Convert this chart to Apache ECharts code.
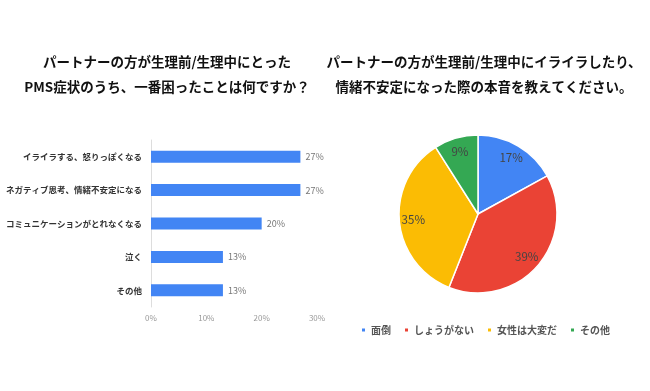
<!DOCTYPE html>
<html>
<head>
<meta charset="utf-8">
<script src="https://cdn.jsdelivr.net/npm/echarts@6/dist/echarts.min.js"></script>
<style>
  html, body { margin: 0; padding: 0; background: #fff; }
  #chart { width: 650px; height: 391px; }
</style>
</head>
<body>
<div id="chart"></div>
<script>
const FONT = '"Noto Sans CJK JP", sans-serif';

// left: bar chart
const barTitle = 'パートナーの方が生理前/生理中にとった\nPMS症状のうち、一番困ったことは何ですか？';
const barCategories = ['イライラする、怒りっぽくなる', 'ネガティブ思考、情緒不安定になる', 'コミュニケーションがとれなくなる', '泣く', 'その他'];
const barValues = [27, 27, 20, 13, 13];
const barTicks = [0, 10, 20, 30];

// right: pie chart
const pieTitle = 'パートナーの方が生理前/生理中にイライラしたり、\n情緒不安定になった際の本音を教えてください。';
const pieNames = ['面倒', 'しょうがない', '女性は大変だ', 'その他'];
const pieValues = [17, 39, 35, 9];
const pieColors = ['#4285F4', '#EA4335', '#FBBC04', '#34A853'];

const chart = echarts.init(document.getElementById('chart'));

const pieData = pieNames.map((n, i) => ({
  name: n,
  value: pieValues[i],
  itemStyle: { color: pieColors[i] }
}));

const titleStyle = { fontSize: 13.5, fontWeight: 'bold', color: '#111', lineHeight: 25, fontFamily: FONT };

chart.setOption({
  backgroundColor: '#fff',
  textStyle: { fontFamily: FONT },
  title: [
    { text: barTitle, left: 162, top: 44, textAlign: 'center', textStyle: titleStyle },
    { text: pieTitle, left: 479, top: 44, textAlign: 'center', textStyle: titleStyle }
  ],
  legend: {
    data: pieNames,
    left: 360, top: 325, padding: 0,
    icon: 'rect', itemWidth: 5, itemHeight: 5, itemGap: 12,
    textStyle: { fontSize: 10, fontWeight: 'bold', color: '#555', fontFamily: FONT }
  },
  grid: { left: 151, right: 650 - 317, top: 140, bottom: 391 - 307 },
  xAxis: {
    type: 'value',
    min: barTicks[0], max: barTicks[barTicks.length - 1], interval: 10,
    axisLine: { show: false },
    axisTick: { show: false },
    splitLine: { show: false },
    axisLabel: { formatter: '{value}%', color: '#999', fontSize: 8, margin: 7 }
  },
  yAxis: {
    type: 'category',
    inverse: true,
    data: barCategories,
    axisLine: { show: true, lineStyle: { color: '#ddd', width: 1 } },
    axisTick: { show: false },
    axisLabel: { color: '#333', fontSize: 8.5, fontWeight: 'bold', margin: 9 }
  },
  series: [
    {
      type: 'bar',
      data: barValues,
      barWidth: 12,
      itemStyle: { color: '#4285F4' },
      label: { show: true, position: 'right', formatter: '{c}%', color: '#777', fontSize: 9, distance: 5 }
    },
    {
      type: 'pie',
      center: [478, 214],
      radius: 79,
      startAngle: 90,
      clockwise: true,
      data: pieData,
      itemStyle: { borderColor: '#fff', borderWidth: 1.5 },
      label: { show: false },
      labelLine: { show: false },
      emphasis: { disabled: true }
    },
    {
      // transparent ring only used to place the percentage labels
      type: 'pie',
      silent: true,
      center: [478, 214],
      radius: [45, 79],
      startAngle: 90,
      clockwise: true,
      data: pieData.map(d => ({ name: d.name, value: d.value, itemStyle: { color: 'rgba(0,0,0,0)' } })),
      itemStyle: { borderWidth: 0 },
      label: { show: true, position: 'inside', formatter: '{c}%', color: '#444', fontSize: 11.5 },
      labelLine: { show: false },
      emphasis: { disabled: true }
    }
  ]
});
</script>
</body>
</html>
